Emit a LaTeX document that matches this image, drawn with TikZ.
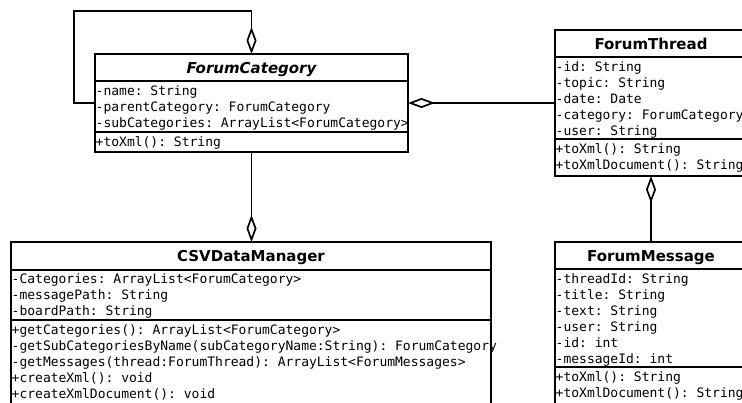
\documentclass[tikz,border=0pt]{standalone}
\usepackage{fontspec}
\setmainfont{DejaVu Sans}
\setmonofont{DejaVu Sans Mono}
\usetikzlibrary{arrows.meta}
\tikzset{
  classbox/.style={draw, line width=1.7pt, rectangle, inner sep=0pt, outer sep=0pt, anchor=north west},
  compart/.style={anchor=north west, inner sep=0pt, align=left,
    font=\ttfamily\fontsize{13}{16}\selectfont},
  classname/.style={anchor=base, inner sep=0pt, font=\bfseries\fontsize{15}{18}\selectfont},
  abstractname/.style={classname, font=\bfseries\itshape\fontsize{15}{18}\selectfont},
  divider/.style={line width=1.7pt},
  aggr/.style={line width=1.7pt, -{Diamond[open, length=27pt, width=10pt]}},
}
\begin{document}
\begin{tikzpicture}[x=1pt, y=-1pt]
\useasboundingbox (0,0) rectangle (742,402);
\fill[white] (0,0) rectangle (742,402);
\clip (0,0) rectangle (742,402);

% ForumCategory (abstract)
\node[classbox, minimum width=313pt, minimum height=98pt] (fc) at (95,54) {};
\node[abstractname] (fc-name) at (251.5,73) {ForumCategory};
\draw[divider] (fc.west |- 0,81) -- (fc.east |- 0,81);
\draw[divider] (fc.west |- 0,132) -- (fc.east |- 0,132);
\node[compart] (fc-attr) at (95.5,83.8) {\strut-name: String\\-parentCategory: ForumCategory\\-subCategories: ArrayList<ForumCategory>};
\node[compart] (fc-ops) at (95.5,134.8) {\strut+toXml(): String};

% ForumThread
\node[classbox, minimum width=192pt, minimum height=146pt] (ft) at (555,30) {};
\node[classname] (ft-name) at (651,49) {ForumThread};
\draw[divider] (ft.west |- 0,57) -- (ft.east |- 0,57);
\draw[divider] (ft.west |- 0,139) -- (ft.east |- 0,139);
\node[compart] (ft-attr) at (555.5,59.8) {\strut-id: String\\-topic: String\\-date: Date\\-category: ForumCategory\\-user: String};
\node[compart] (ft-ops) at (555.5,141.8) {\strut+toXml(): String\\+toXmlDocument(): String};

% ForumMessage
\node[classbox, minimum width=192pt, minimum height=165pt] (fm) at (555,242) {};
\node[classname] (fm-name) at (651,261) {ForumMessage};
\draw[divider] (fm.west |- 0,269) -- (fm.east |- 0,269);
\draw[divider] (fm.west |- 0,367) -- (fm.east |- 0,367);
\node[compart] (fm-attr) at (555.5,271.8) {\strut-threadId: String\\-title: String\\-text: String\\-user: String\\-id: int\\-messageId: int};
\node[compart] (fm-ops) at (555.5,369.8) {\strut+toXml(): String\\+toXmlDocument(): String};

% CSVDataManager
\node[classbox, minimum width=480pt, minimum height=165pt] (csv) at (11,242) {};
\node[classname] (csv-name) at (251,261) {CSVDataManager};
\draw[divider] (csv.west |- 0,270) -- (csv.east |- 0,270);
\draw[divider] (csv.west |- 0,320) -- (csv.east |- 0,320);
\node[compart] (csv-attr) at (11.5,271.8) {\strut-Categories: ArrayList<ForumCategory>\\-messagePath: String\\-boardPath: String};
\node[compart] (csv-ops) at (11.5,322.8) {\strut+getCategories(): ArrayList<ForumCategory>\\-getSubCategoriesByName(subCategoryName:String): ForumCategory\\-getMessages(thread:ForumThread): ArrayList<ForumMessages>\\+createXml(): void\\+createXmlDocument(): void};

% Aggregations
\draw[aggr] (fc.west) -- ++(-21,0) |- ([yshift=43pt]fc.north) -- (fc.north);
\draw[aggr] (ft.west |- fc.east) -- (fc.east);
\draw[aggr] (fc.south) -- (fc.south |- csv.north);
\draw[aggr] (fm.north) -- (ft.south);
\end{tikzpicture}
\end{document}
